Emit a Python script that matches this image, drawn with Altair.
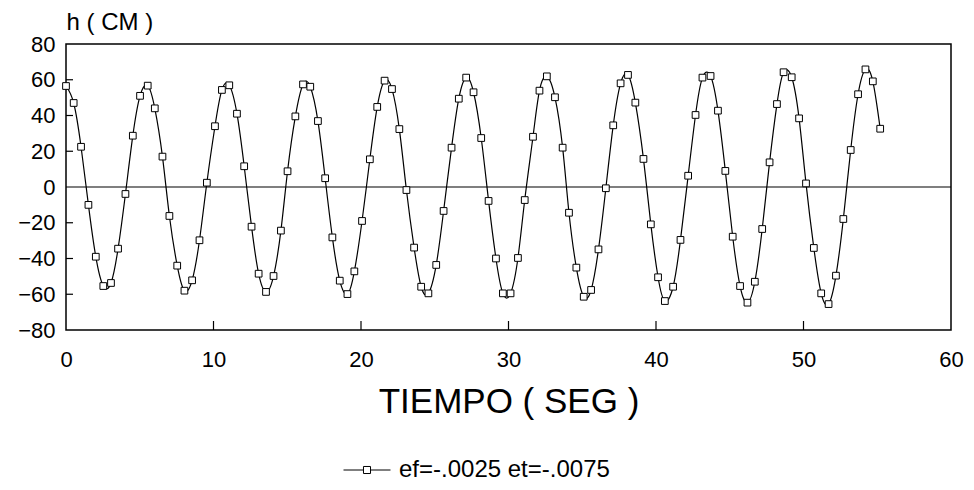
import altair as alt
import pandas as pd

# Data
times = [0.0, 0.52, 1.02, 1.52, 2.02, 2.53, 3.05, 3.53, 4.03, 4.53, 5.02, 5.54, 6.02, 6.54, 7.01, 7.54,
         8.03, 8.55, 9.05, 9.55, 10.1, 10.57, 11.07, 11.59, 12.08, 12.58, 13.06, 13.56, 14.07, 14.57,
         15.02, 15.55, 16.07, 16.56, 17.08, 17.57,
         18.06, 18.56, 19.08, 19.55, 20.07, 20.6, 21.1, 21.6, 22.1, 22.6, 23.08, 23.6, 24.08, 24.57,
         25.1, 25.6, 26.14, 26.63, 27.13, 27.63, 28.15, 28.65, 29.15, 29.62, 30.14, 30.64, 31.1, 31.66,
         32.1, 32.6, 33.15, 33.67, 34.1, 34.6, 35.1, 35.6, 36.1, 36.6, 37.1, 37.6, 38.1,
         38.6, 39.15, 39.65, 40.14, 40.6, 41.16, 41.66, 42.18, 42.68, 43.15, 43.7, 44.2, 44.7, 45.2,
         45.7, 46.2, 46.7, 47.2, 47.7, 48.2, 48.65, 49.2, 49.7, 50.17, 50.7, 51.2, 51.7, 52.2, 52.7,
         53.2, 53.7, 54.2, 54.7, 55.2]
h_cm = [56.5, 47, 22.5, -10, -39, -55.4, -53.7, -34.5, -3.9, 28.7, 51, 56.7, 44, 17, -16.2, -44,
        -58, -52.2, -29.8, 2.4, 34, 54.3, 56.9, 41, 11.6, -22.2, -48.5, -58.7, -49.8, -24.4,
        8.8, 39.5, 57.4, 56.1, 36.9, 4.9,
        -28.2, -52.4, -59.9, -47.2, -19, 15.5, 44.8, 59.5, 54.8, 32.4, -1.7, -33.9, -55.8, -59.5,
        -43.6, -13.4, 22, 49.4, 61.2, 53, 27.4, -7.8, -40, -59.5, -59.5, -39.7, -7.3, 28.1,
        53.9, 61.9, 50.2, 22, -14.4, -45.1, -61.4, -57.6, -34.9, -0.7, 34.5, 58, 62.7,
        47.2, 15.7, -20.9, -50.5, -63.8, -55.8, -29.6, 6.3, 40.3, 61.2, 62.1, 42.7, 9, -27.8,
        -55.4, -64.7, -53, -23.5, 13.8, 46.4, 64.2, 61.4, 38.4, 2, -34.1, -59.5, -65.5, -49.6, -17.9,
        20.7, 51.9, 65.8, 59.1, 32.6]
series_name = "ef=-.0025 et=-.0075"
x_ticks = [0, 10, 20, 30, 40, 50, 60]
y_ticks = [-80, -60, -40, -20, 0, 20, 40, 60, 80]
x_inner_ticks = [10, 20, 30, 40, 50]
y_inner_ticks = [-60, -40, -20, 20, 40, 60]

FONT = "Liberation Sans"
W, H = 885, 286
LEG_SIZE = 2209

df = pd.DataFrame({"t": times, "h": h_cm, "serie": [series_name] * len(times)})

xscale = alt.Scale(domain=[0, 60], nice=False, zero=False)
yscale = alt.Scale(domain=[-80, 80], nice=False, zero=False)

x_axis = alt.Axis(values=x_ticks, title="TIEMPO ( SEG )", grid=False, domain=False,
                  ticks=False, labelFontSize=22, labelPadding=19, labelFont=FONT,
                  labelFlush=False, labelOverlap=False,
                  titleFont=FONT, titleFontSize=35, titleFontWeight="normal",
                  titleX=W / 2, titleY=82, titleBaseline="alphabetic")
y_axis = alt.Axis(values=y_ticks, title="h ( CM )", grid=False, domain=False,
                  ticks=False, labelFontSize=22, labelPadding=11, labelFont=FONT,
                  labelFlush=False, labelOverlap=False, labelBound=False,
                  titleFont=FONT, titleFontSize=24, titleFontWeight="normal",
                  titleAngle=0, titleX=0, titleY=-15, titleAlign="left",
                  titleBaseline="alphabetic")

base = alt.Chart(df)

line = base.mark_line(interpolate="natural", strokeWidth=1.2).encode(
    x=alt.X("t:Q", scale=xscale, axis=x_axis),
    y=alt.Y("h:Q", scale=yscale, axis=y_axis),
    stroke=alt.Stroke("serie:N", scale=alt.Scale(range=["black"]),
                      legend=alt.Legend(title=None, orient="none", legendX=277, legendY=402,
                                        symbolType="M-1,0H-0.15M0.15,0H1M-0.15,-0.15H0.15V0.15H-0.15Z",
                                        symbolSize=LEG_SIZE, symbolStrokeWidth=1,
                                        symbolFillColor="white", symbolStrokeColor="black",
                                        labelFont=FONT, labelFontSize=24, labelColor="black",
                                        labelLimit=600, labelOffset=8, padding=0)),
)

points = base.mark_point(shape="square", filled=False, fill="white", fillOpacity=1,
                         size=45, strokeWidth=1, opacity=1, stroke="black").encode(
    x=alt.X("t:Q", scale=xscale, axis=x_axis),
    y=alt.Y("h:Q", scale=yscale, axis=y_axis),
)

zero_df = pd.DataFrame({"z": [0]})
zero_line = alt.Chart(zero_df).mark_rule(color="black", strokeWidth=1.2).encode(
    y=alt.Y("z:Q", scale=yscale, axis=y_axis),
    x=alt.value(0), x2=alt.value(W),
)

xt_df = pd.DataFrame({"t": x_inner_ticks})
xt = alt.Chart(xt_df).mark_rule(color="black", strokeWidth=1.2).encode(
    x=alt.X("t:Q", scale=xscale, axis=x_axis),
    y=alt.value(H), y2=alt.value(H - 9),
)

yt_df = pd.DataFrame({"v": y_inner_ticks})
yt = alt.Chart(yt_df).mark_rule(color="black", strokeWidth=1.2).encode(
    y=alt.Y("v:Q", scale=yscale, axis=y_axis),
    x=alt.value(0), x2=alt.value(7),
)

chart = alt.layer(line, zero_line, xt, yt, points).properties(
    width=W, height=H,
    autosize=alt.AutoSizeParams(type="none"),
    padding={"left": 58, "top": 36, "right": 15, "bottom": 152},
).configure_view(stroke="black", strokeWidth=1.5).configure_axis(
    labelColor="black", titleColor="black", labelOverlap=False
)

chart.save("out.html", embed_options={"renderer": "svg", "actions": False})
